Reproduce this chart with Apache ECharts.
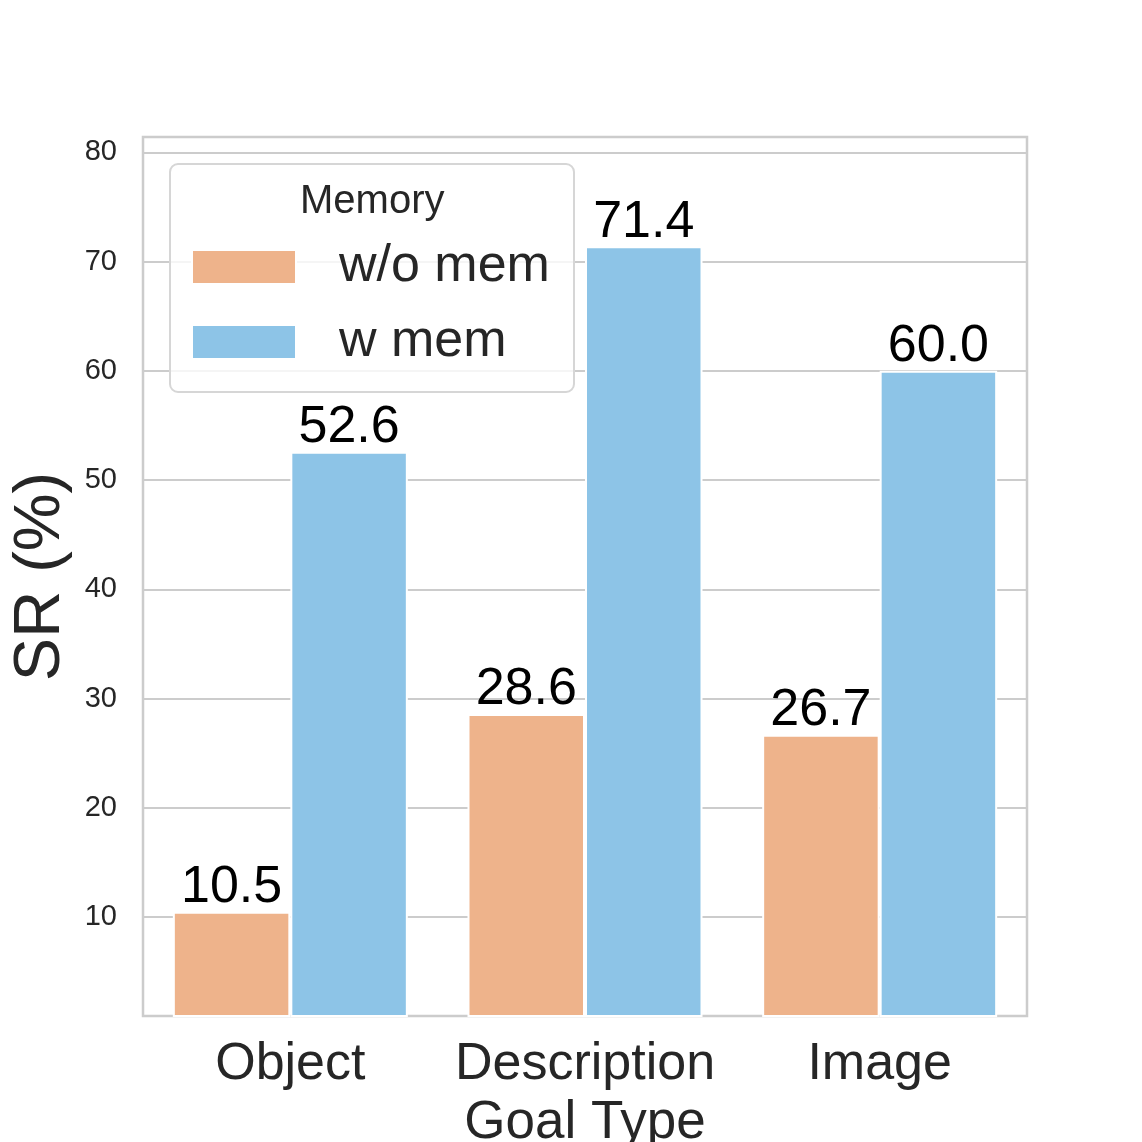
<!DOCTYPE html>
<html><head><meta charset="utf-8">
<script src="https://cdn.jsdelivr.net/npm/echarts@6/dist/echarts.min.js"></script>
<style>html,body{margin:0;padding:0;background:#fff}#c{width:1142px;height:1142px}</style>
</head><body><div id="c"></div>
<script>
const categories = ['Object', 'Description', 'Image'];
const woMem = [10.5, 28.6, 26.7];
const wMem = [52.6, 71.4, 60.0];
const yTicks = [10, 20, 30, 40, 50, 60, 70, 80];
const seriesNames = ['w/o mem', 'w mem'];

const FONT = '"Liberation Sans", Arial, sans-serif';
const chart = echarts.init(document.getElementById('c'), null, {renderer: 'canvas'});
const labelCfg = {
  show: true, position: 'top', distance: -2,
  fontFamily: FONT, fontSize: 52, color: '#000',
  formatter: p => p.value.toFixed(1)
};
chart.setOption({
  animation: false,
  backgroundColor: '#fff',
  grid: {left: 143, top: 137, width: 884, height: 879, show: true,
         outerBoundsMode: 'none', containLabel: false,
         borderColor: '#cccccc', borderWidth: 2.5, backgroundColor: 'transparent'},
  xAxis: {
    type: 'category', data: categories,
    axisLine: {show: false}, axisTick: {show: false},
    axisLabel: {fontFamily: FONT, fontSize: 52, color: '#262626', margin: 23, interval: 0, hideOverlap: false},
    name: 'Goal Type', nameLocation: 'middle', nameGap: 81,
    nameTextStyle: {fontFamily: FONT, fontSize: 53, color: '#262626'}
  },
  yAxis: {
    type: 'value', min: 0.95, max: 81.4,
    axisLine: {show: false},
    axisTick: {show: false, customValues: yTicks},
    axisLabel: {fontFamily: FONT, fontSize: 29, color: '#262626', margin: 26, customValues: yTicks},
    splitLine: {show: true, lineStyle: {color: '#cccccc', width: 2}},
    name: 'SR (%)', nameLocation: 'middle', nameGap: 68,
    nameTextStyle: {fontFamily: FONT, fontSize: 65, color: '#262626'}
  },
  legend: {
    orient: 'vertical', left: 191, top: 241, padding: 0, z: 10,
    itemWidth: 104, itemHeight: 34, itemGap: 23,
    icon: 'rect',
    data: seriesNames,
    textStyle: {fontFamily: FONT, fontSize: 52, color: '#262626', padding: [0, 0, 0, 38]}
  },
  graphic: [
    {type: 'rect', left: 169, top: 163, z: 5,
     shape: {width: 404, height: 228, r: 8},
     style: {fill: 'rgba(255,255,255,0.8)', stroke: '#d6d6d6', lineWidth: 2}},
    {type: 'text', left: 300, top: 182, z: 11,
     style: {text: 'Memory', fontFamily: FONT, fontSize: 40, fill: '#262626'}}
  ],
  series: [
    {name: seriesNames[0], type: 'bar', data: woMem, barWidth: 117.5, barGap: '0%',
     itemStyle: {color: '#EEB38B', borderColor: '#fff', borderWidth: 2}, label: labelCfg, z: 3},
    {name: seriesNames[1], type: 'bar', data: wMem, barWidth: 117.5, barGap: '0%',
     itemStyle: {color: '#8DC4E7', borderColor: '#fff', borderWidth: 2}, label: labelCfg, z: 3}
  ]
});
</script></body></html>
